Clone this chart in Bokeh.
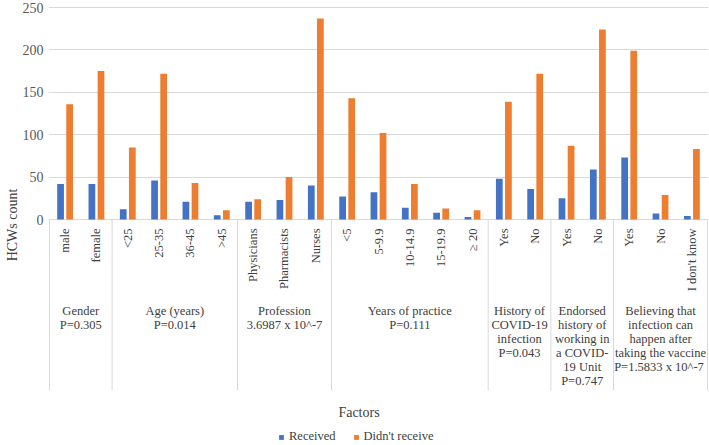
import math
from bokeh.plotting import figure
from bokeh.models import ColumnDataSource, Range1d, FixedTicker, Legend, LegendItem
from bokeh.core.properties import value
from bokeh.embed import file_html
from bokeh.resources import INLINE

# ---------------- data ----------------
categories = ["male", "female",
              "<25", "25-35", "36-45", ">45",
              "Physicians", "Pharmacists", "Nurses",
              "<5", "5-9.9", "10-14.9", "15-19.9", "\u2265 20",
              "Yes", "No",
              "Yes", "No",
              "Yes", "No", "I don't know"]
received = [42, 42, 12, 46, 21, 5, 21, 23, 40, 27, 32, 14, 8, 3, 48, 36, 25, 59, 73, 7, 4]
didnt_receive = [136, 175, 85, 172, 43, 11, 24, 50, 237, 143, 102, 42, 13, 11, 139, 172, 87, 224, 199, 29, 83]
group_names = ["Gender\nP=0.305",
               "Age (years)\nP=0.014",
               "Profession\n3.6987 x 10^-7",
               "Years of practice\nP=0.111",
               "History of\nCOVID-19\ninfection\nP=0.043",
               "Endorsed\nhistory of\nworking in\na COVID-\n19 Unit\nP=0.747",
               "Believing that\ninfection can\nhappen after\ntaking the vaccine\nP=1.5833 x  10^-7"]
group_sizes = [2, 4, 3, 5, 2, 2, 3]
y_ticks = [0, 50, 100, 150, 200, 250]
series_names = ["Received", "Didn't receive"]

# ---------------- style / layout ----------------
W, H = 708, 444
FONT = "Liberation Serif"
TXT = "#404040"
TICK_TXT = "#595959"
BLUE = "#4472C4"
ORANGE = "#ED7D31"
GRID = "#D9D9D9"

FRAME_L, FRAME_R = 48, W
FRAME_T, FRAME_B = 5, H
Y0_PX, YTOP_PX = 219, 7
n = len(categories)
X_PAD = 0.03
s_y = (Y0_PX - YTOP_PX) / 250.0
y_end = 250 + (YTOP_PX - FRAME_T) / s_y
y_start = -(FRAME_B - Y0_PX) / s_y
s_x = (FRAME_R - FRAME_L) / (n + 2 * X_PAD)


def ypx(py):
    return -(py - Y0_PX) / s_y


def xpx(px):
    return -X_PAD + (px - FRAME_L) / s_x


p = figure(width=W, height=H, output_backend="svg", toolbar_location=None,
           x_range=Range1d(-X_PAD, n + X_PAD), y_range=Range1d(y_start, y_end),
           x_axis_location=None,
           min_border_left=FRAME_L, min_border_right=0,
           min_border_top=FRAME_T, min_border_bottom=0)
p.outline_line_color = None
p.background_fill_color = "white"
p.border_fill_color = "white"
p.xgrid.visible = False
p.ygrid.ticker = FixedTicker(ticks=y_ticks)
p.ygrid.grid_line_color = GRID
p.ygrid.grid_line_width = 1

p.yaxis.ticker = FixedTicker(ticks=y_ticks)
p.yaxis.bounds = (y_ticks[0], y_ticks[-1])
p.yaxis.axis_line_color = None
p.yaxis.major_tick_line_color = None
p.yaxis.minor_tick_line_color = None
p.yaxis.major_tick_out = 0
p.yaxis.major_tick_in = 0
p.yaxis.major_label_standoff = 5
p.yaxis.major_label_text_font = FONT
p.yaxis.major_label_text_font_size = "14px"
p.yaxis.major_label_text_color = TICK_TXT
p.yaxis.axis_label = "HCWs count"
p.yaxis.axis_label_standoff = 0
p.yaxis.axis_label_text_font = FONT
p.yaxis.axis_label_text_font_size = "14px"
p.yaxis.axis_label_text_font_style = "normal"
p.yaxis.axis_label_text_color = TXT

# bars
centers = [i + 0.5 for i in range(n)]
src = ColumnDataSource(dict(
    x_rec=[c - 0.145 for c in centers],
    x_no=[c + 0.145 for c in centers],
    rec=received, no=didnt_receive))
r1 = p.vbar(x="x_rec", top="rec", bottom=0, width=0.215, source=src,
            fill_color=BLUE, line_color=None)
r2 = p.vbar(x="x_no", top="no", bottom=0, width=0.215, source=src,
            fill_color=ORANGE, line_color=None)

# group dividers
bounds = [0]
for g in group_sizes:
    bounds.append(bounds[-1] + g)
p.segment(x0=bounds, x1=bounds, y0=[0] * len(bounds), y1=[ypx(390)] * len(bounds),
          line_color=GRID, line_width=1)

# category labels (rotated)
p.text(x=centers, y=[ypx(228)] * n, text=categories, angle=math.pi / 2,
       text_align="right", text_baseline="middle",
       text_font=value(FONT), text_font_size="12.5px", text_color=TXT)

# group labels
g_centers = [(bounds[i] + bounds[i + 1]) / 2 for i in range(len(group_sizes))]
p.text(x=g_centers, y=[ypx(303)] * len(g_centers), text=group_names,
       text_align="center", text_baseline="top", text_line_height=1.0,
       text_font=value(FONT), text_font_size="12.5px", text_color=TXT)

# x axis title
p.text(x=[xpx(358.5)], y=[ypx(412)], text=["Factors"],
       text_align="center", text_baseline="middle",
       text_font=value(FONT), text_font_size="14px", text_color=TXT)

# legend
legend = Legend(items=[LegendItem(label=series_names[0], renderers=[r1]),
                       LegendItem(label=series_names[1], renderers=[r2])],
                orientation="horizontal", location=(278 - FRAME_L, 0),
                padding=0, margin=0, spacing=17, label_standoff=5,
                glyph_width=6, glyph_height=6, label_height=14, label_width=10,
                border_line_color=None, background_fill_alpha=0,
                label_text_font=FONT, label_text_font_size="12.5px",
                label_text_color=TXT)
p.add_layout(legend, "center")

open("out.html", "w").write(file_html(p, INLINE))
